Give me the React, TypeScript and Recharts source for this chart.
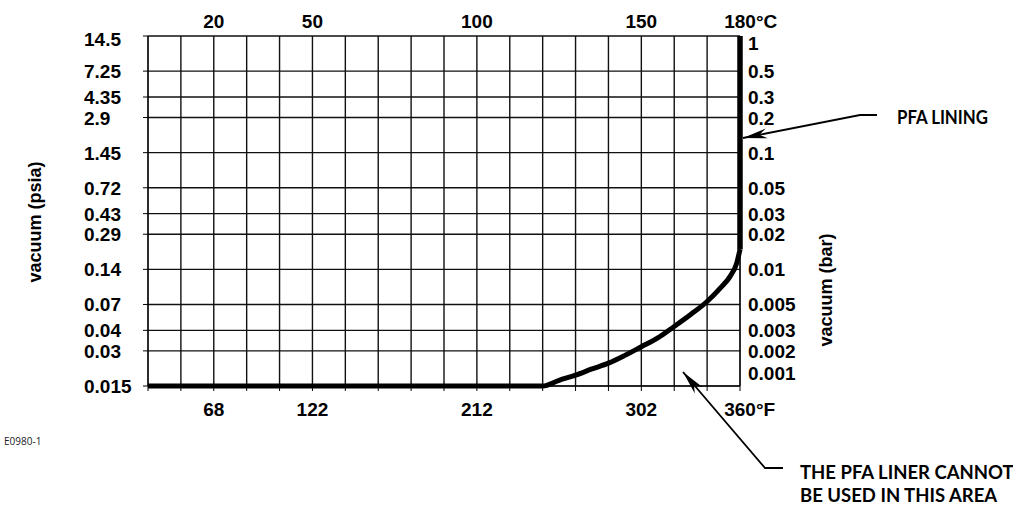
import React from "react";
import { LineChart, Line, XAxis, YAxis, CartesianGrid } from "recharts";

// temperature grid (°C), one vertical line every 10°
const gridTempC = [0, 10, 20, 30, 40, 50, 60, 70, 80, 90, 100, 110, 120, 130, 140, 150, 160, 170, 180];
const topTicksC = [20, 50, 100, 150, 180];
const bottomTicksF = ["68", "122", "212", "302", "360"];

// vacuum scale, bar on the right, psia on the left
const barTicks = [1, 0.5, 0.3, 0.2, 0.1, 0.05, 0.03, 0.02, 0.01, 0.005, 0.003, 0.002, 0.001];
const psiaTicks = ["14.5", "7.25", "4.35", "2.9", "1.45", "0.72", "0.43", "0.29", "0.14", "0.07", "0.04", "0.03", "0.015"];

// PFA lining limit curve
const curveTempC = [0, 120, 125, 130, 135, 140, 145, 150, 155, 160, 165, 170, 174, 177, 179, 180];
const curveBar = [0.001, 0.001, 0.00112, 0.00124, 0.0014, 0.00157, 0.00183, 0.00217, 0.00258, 0.00324, 0.0041, 0.0053, 0.0069, 0.0087, 0.0113, 0.0148];
const wallTempC = [180, 180];
const wallBar = [0.0148, 1];

const curveData = curveTempC.map((t, i) => ({ t, bar: curveBar[i] }));
const wallData = wallTempC.map((t, i) => ({ t, bar: wallBar[i] }));

const NUM_FONT = "'Liberation Sans', Arial, sans-serif";
const NOTE_FONT = "Lato, 'Liberation Sans', sans-serif";
const INK = "#000";

const numStyle = { fontFamily: NUM_FONT, fontSize: 19, fontWeight: 700, fill: INK };
const noteStyle = { fontFamily: NOTE_FONT, fontSize: 18.5, fontWeight: 700, fill: INK };

function LeftTick(props: any) {
  const { x, y, payload } = props;
  const i = barTicks.indexOf(payload.value);
  const shift = i === 0 ? 3 : 0;
  return (
    <text x={x - 57} y={y + shift} dy={7} textAnchor="start" style={numStyle}>
      {psiaTicks[i]}
    </text>
  );
}

function RightTick(props: any) {
  const { x, y, payload } = props;
  const v = payload.value;
  const shift = v === 1 ? 7 : v === 0.001 ? -13 : 0;
  return (
    <text x={x} y={y + shift} dy={7} textAnchor="start" style={numStyle}>
      {String(v)}
    </text>
  );
}

function TopTick(props: any) {
  const { x, y, payload } = props;
  const v = payload.value;
  return (
    <g>
      <text x={x} y={y} textAnchor="middle" style={numStyle}>
        {String(v)}
      </text>
      {v === 180 && (
        <text x={x + 16} y={y} textAnchor="start" style={numStyle}>
          °C
        </text>
      )}
    </g>
  );
}

function BottomTick(props: any) {
  const { x, y, payload } = props;
  const i = topTicksC.indexOf(payload.value);
  if (i < 0) return <g />;
  const last = i === topTicksC.length - 1;
  return (
    <g>
      <text x={x} y={y} dy={23} textAnchor="middle" style={numStyle}>
        {bottomTicksF[i]}
      </text>
      {last && (
        <text x={x + 16} y={y} dy={23} textAnchor="start" style={numStyle}>
          °F
        </text>
      )}
    </g>
  );
}

function arrowHead(tip: number[], tail: number[], len: number, half: number) {
  const dx = tail[0] - tip[0];
  const dy = tail[1] - tip[1];
  const d = Math.hypot(dx, dy);
  const ux = dx / d;
  const uy = dy / d;
  const bx = tip[0] + ux * len;
  const by = tip[1] + uy * len;
  const nx = tip[0] + ux * len * 0.7;
  const ny = tip[1] + uy * len * 0.7;
  return [
    [tip[0], tip[1]],
    [bx - uy * half, by + ux * half],
    [nx, ny],
    [bx + uy * half, by - ux * half],
  ]
    .map((p) => p.join(","))
    .join(" ");
}

function Notes() {
  const liningTip = [743, 138];
  const liningTail = [860, 115];
  const areaTip = [683, 372];
  const areaTail = [765, 468];
  return (
    <svg
      width={1013}
      height={506}
      style={{ position: "absolute", left: 0, top: 0, pointerEvents: "none" }}
    >
      <text
        transform="translate(41,222) rotate(-90)"
        textAnchor="middle"
        style={{ fontFamily: NUM_FONT, fontSize: 18, fontWeight: 700, fill: INK }}
      >
        vacuum (psia)
      </text>
      <text
        transform="translate(832,290) rotate(-90)"
        textAnchor="middle"
        style={{ fontFamily: NUM_FONT, fontSize: 18, fontWeight: 700, fill: INK }}
      >
        vacuum (bar)
      </text>

      <polyline
        points={`${liningTip.join(",")} ${liningTail.join(",")} 877,115`}
        fill="none"
        stroke={INK}
        strokeWidth={1.8}
      />
      <polygon points={arrowHead(liningTip, liningTail, 24, 5)} fill={INK} />
      <text x={897} y={124} textLength={91} lengthAdjust="spacingAndGlyphs" style={{ ...noteStyle, fontSize: 19 }}>
        PFA LINING
      </text>

      <polyline
        points={`${areaTip.join(",")} ${areaTail.join(",")} 783,468`}
        fill="none"
        stroke={INK}
        strokeWidth={1.8}
      />
      <polygon points={arrowHead(areaTip, areaTail, 24, 5)} fill={INK} />
      <text x={800} y={479} style={noteStyle}>
        THE PFA LINER CANNOT
      </text>
      <text x={800} y={502} style={noteStyle}>
        BE USED IN THIS AREA
      </text>

      <text x={4} y={445} style={{ fontFamily: "'Open Sans', sans-serif", fontSize: 10, fill: "#222" }}>
        E0980-1
      </text>
    </svg>
  );
}

export default function App() {
  return (
    <div style={{ position: "absolute", left: 0, top: 0, width: 1013, height: 506, background: "#fff" }}>
      <LineChart width={1013} height={506} margin={{ top: 6, right: 213, bottom: 90, left: 88 }}>
        <CartesianGrid xAxisId="bottom" yAxisId="left" stroke="#111" strokeWidth={1.4} />
        <XAxis
          xAxisId="bottom"
          dataKey="t"
          type="number"
          domain={[0, 180]}
          ticks={gridTempC}
          interval={0}
          height={30}
          tickSize={5}
          tickMargin={2}
          stroke={INK}
          tick={<BottomTick />}
        />
        <XAxis
          xAxisId="top"
          dataKey="t"
          orientation="top"
          type="number"
          domain={[0, 180]}
          ticks={topTicksC}
          interval={0}
          height={30}
          tickSize={6}
          tickMargin={2}
          tickLine={false}
          axisLine={false}
          tick={<TopTick />}
        />
        <YAxis
          yAxisId="left"
          type="number"
          scale="log"
          domain={[0.001, 1]}
          ticks={barTicks}
          interval={0}
          width={60}
          tickSize={5}
          tickMargin={2}
          stroke={INK}
          tick={<LeftTick />}
        />
        <YAxis
          yAxisId="right"
          orientation="right"
          type="number"
          scale="log"
          domain={[0.001, 1]}
          ticks={barTicks}
          interval={0}
          width={60}
          tickSize={6}
          tickMargin={2}
          tickLine={false}
          stroke={INK}
          tick={<RightTick />}
        />
        <Line
          xAxisId="bottom"
          yAxisId="left"
          data={curveData}
          dataKey="bar"
          type="monotone"
          stroke={INK}
          strokeWidth={5}
          dot={false}
          activeDot={false}
          isAnimationActive={false}
        />
        <Line
          xAxisId="top"
          yAxisId="right"
          data={wallData}
          dataKey="bar"
          type="linear"
          stroke={INK}
          strokeWidth={5.5}
          dot={false}
          activeDot={false}
          isAnimationActive={false}
        />
      </LineChart>
      <Notes />
    </div>
  );
}
